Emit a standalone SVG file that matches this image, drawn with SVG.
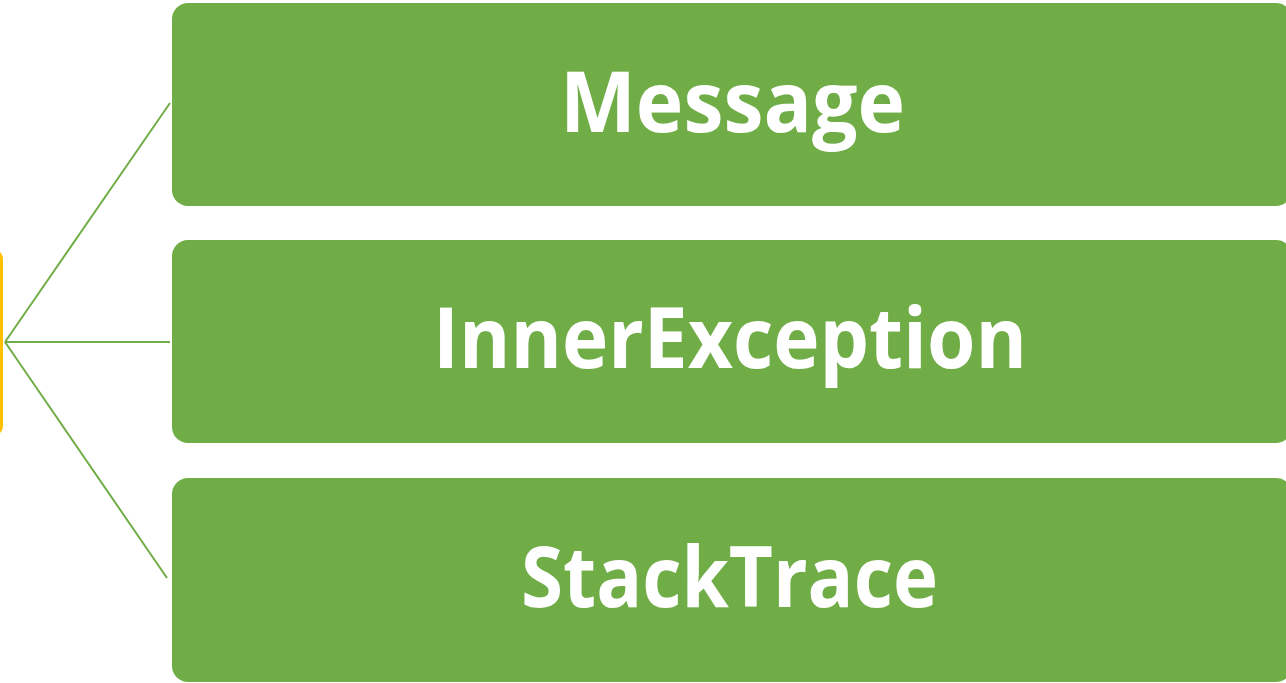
<svg xmlns="http://www.w3.org/2000/svg" width="1286" height="683" viewBox="0 0 1286 683">
<style>
.box{fill:#70AD47;}
.lbl{fill:#FFFFFF;font-family:"Open Sans","Liberation Sans",sans-serif;font-weight:bold;font-size:84px;}
.conn{stroke:#70AD47;stroke-width:2;fill:none;}
</style>
<rect width="1286" height="683" fill="#FFFFFF"/>
<g id="root">
<rect x="-20" y="249" width="23" height="187" rx="10" fill="#FFC000"/>
</g>
<g id="connectors">
<line class="conn" x1="5" y1="342" x2="170" y2="103"/>
<line class="conn" x1="5" y1="342" x2="170" y2="342"/>
<line class="conn" x1="5" y1="342" x2="167" y2="578"/>
</g>
<g id="node-message">
<rect class="box" x="172" y="3" width="1120" height="203" rx="16"/>
<text class="lbl" x="560" y="132" textLength="345" lengthAdjust="spacingAndGlyphs">Message</text>
</g>
<g id="node-innerexception">
<rect class="box" x="172" y="240" width="1120" height="203" rx="16"/>
<text class="lbl" x="433" y="368" textLength="594" lengthAdjust="spacingAndGlyphs">InnerException</text>
</g>
<g id="node-stacktrace">
<rect class="box" x="172" y="478" width="1120" height="204" rx="16"/>
<text class="lbl" x="521" y="607" textLength="417" lengthAdjust="spacingAndGlyphs">StackTrace</text>
</g>
</svg>
